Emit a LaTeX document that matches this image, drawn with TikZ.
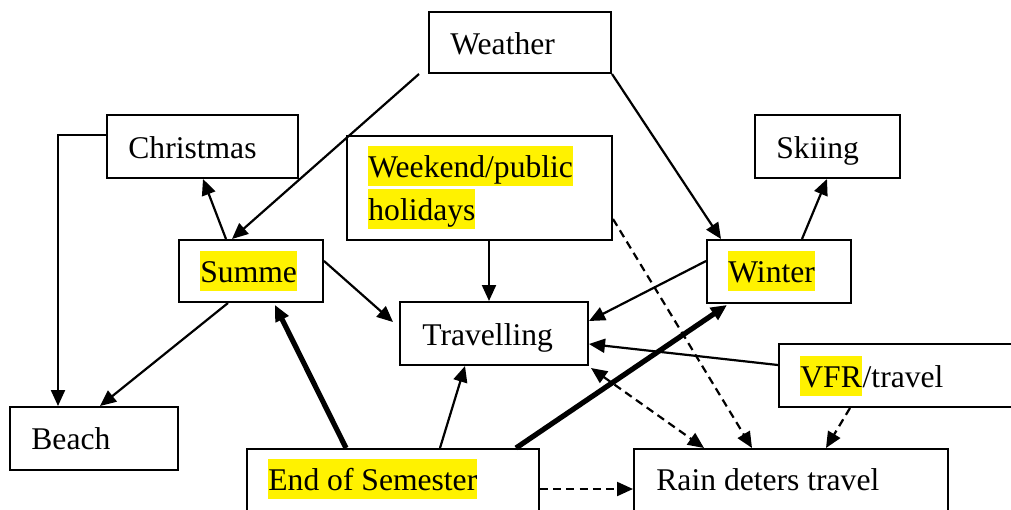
\documentclass[tikz,border=0pt]{standalone}
\usepackage{fontspec}
\setmainfont{Liberation Serif}
\newfontfamily\boxfont{Liberation Serif}
\usetikzlibrary{arrows.meta,calc,fit}

\tikzset{
  box/.style={draw, line width=1pt, inner sep=0pt, fill=white},
  word/.style={anchor=base west, inner sep=0pt, font=\boxfont\fontsize{15.8pt}{19pt}\selectfont},
  hl/.style={word, fill=yellow, text height=15.5pt, text depth=4.5pt},
  tip/.style={-{Triangle[length=8pt,width=7pt]}},
  conn/.style={tip, line width=1.1pt},
  boldconn/.style={tip, line width=2.6pt},
  dashconn/.style={tip, line width=1.1pt, dash pattern=on 4pt off 2.6pt},
}

\begin{document}
\begin{tikzpicture}[x=0.5pt, y=-0.5pt]
\useasboundingbox (0,0) rectangle (1011,509);
\clip (0,0) rectangle (1011,509);

% boxes
\node[box, fit={(429,12) (611,73)}]   (weather)   {};
\node[box, fit={(107,115) (298,178)}] (christmas) {};
\node[box, fit={(755,115) (900,178)}] (skiing)    {};
\node[box, fit={(347,136) (612,240)}] (weekend)   {};
\node[box, fit={(179,240) (323,302)}] (summe)     {};
\node[box, fit={(707,240) (851,303)}] (winter)    {};
\node[box, fit={(400,302) (588,365)}] (travel)    {};
\node[box, fit={(779,344) (1020,407)}] (vfr)      {};
\node[box, fit={(10,407) (178,470)}]  (beach)     {};
\node[box, fit={(247,449) (539,530)}] (endsem)    {};
\node[box, fit={(634,449) (948,530)}] (rain)      {};

% labels
\node[word] (weather-t)   at (450,54)  {Weather};
\node[word] (christmas-t) at (128,158) {Christmas};
\node[word] (skiing-t)    at (776,158) {Skiing};
\node[hl]   (weekend-t1)  at (368,177) {Weekend/public};
\node[hl]   (weekend-t2)  at (368,220) {holidays};
\node[hl]   (summe-t)     at (200,282) {Summe};
\node[hl]   (winter-t)    at (728,282) {Winter};
\node[word] (travel-t)    at (422,345) {Travelling};
\node[hl]   (vfr-t)       at (800,387) {VFR};
\node[word] (vfr-t2)      at (vfr-t.base east) {/travel};
\node[word] (beach-t)     at (31,449)  {Beach};
\node[hl]   (endsem-t)    at (268,490) {End of Semester};
\node[word] (rain-t)      at (656,490) {Rain deters travel};

% connectors
\draw[conn] ($(weather.south west)+(-9,0)$) -- ($(summe.north west)+(54,0)$);
\draw[conn] (weather.south east) -- ($(winter.north west)+(15,0)$);
\draw[conn] ($(christmas.north west)+(0,21)$) -| ($(beach.north west)+(49,0)$);
\draw[conn] ($(summe.north west)+(48,0)$) -- ($(christmas.south west)+(97,0)$);
\draw[conn] ($(winter.north west)+(96,0)$) -- ($(skiing.south west)+(73,0)$);
\draw[conn] ($(weekend.south west)+(143,0)$) -- ($(travel.north west)+(90,0)$);
\draw[conn] ($(summe.north east)+(0,22)$) -- ($(travel.north west)+(-6,21)$);
\draw[conn] ($(winter.north west)+(0,22)$) -- ($(travel.north east)+(0,20)$);
\draw[conn] ($(vfr.north west)+(0,22)$) -- ($(travel.north east)+(0,43)$);
\draw[conn] ($(summe.south west)+(50,0)$) -- ($(beach.north west)+(91,0)$);
\draw[boldconn] ($(endsem.north west)+(100,0)$) -- ($(summe.south west)+(97,2)$);
\draw[conn] ($(endsem.north west)+(194,0)$) -- ($(travel.south west)+(66,0)$);
\draw[boldconn] ($(endsem.north east)+(-24,0)$) -- ($(winter.south west)+(21,1)$);
\draw[dashconn] ($(endsem.north east)+(0,41)$) -- ($(rain.north west)+(0,41)$);
\draw[dashconn, {Triangle[length=8pt,width=7pt]}-{Triangle[length=8pt,width=7pt]}]
  ($(travel.south east)+(2,2)$) -- ($(rain.north west)+(71,0)$);
\draw[dashconn] ($(weekend.south east)+(0,-22)$) -- ($(rain.north west)+(119,0)$);
\draw[dashconn] ($(vfr.south west)+(72,0)$) -- ($(rain.north west)+(193,0)$);
\end{tikzpicture}
\end{document}
